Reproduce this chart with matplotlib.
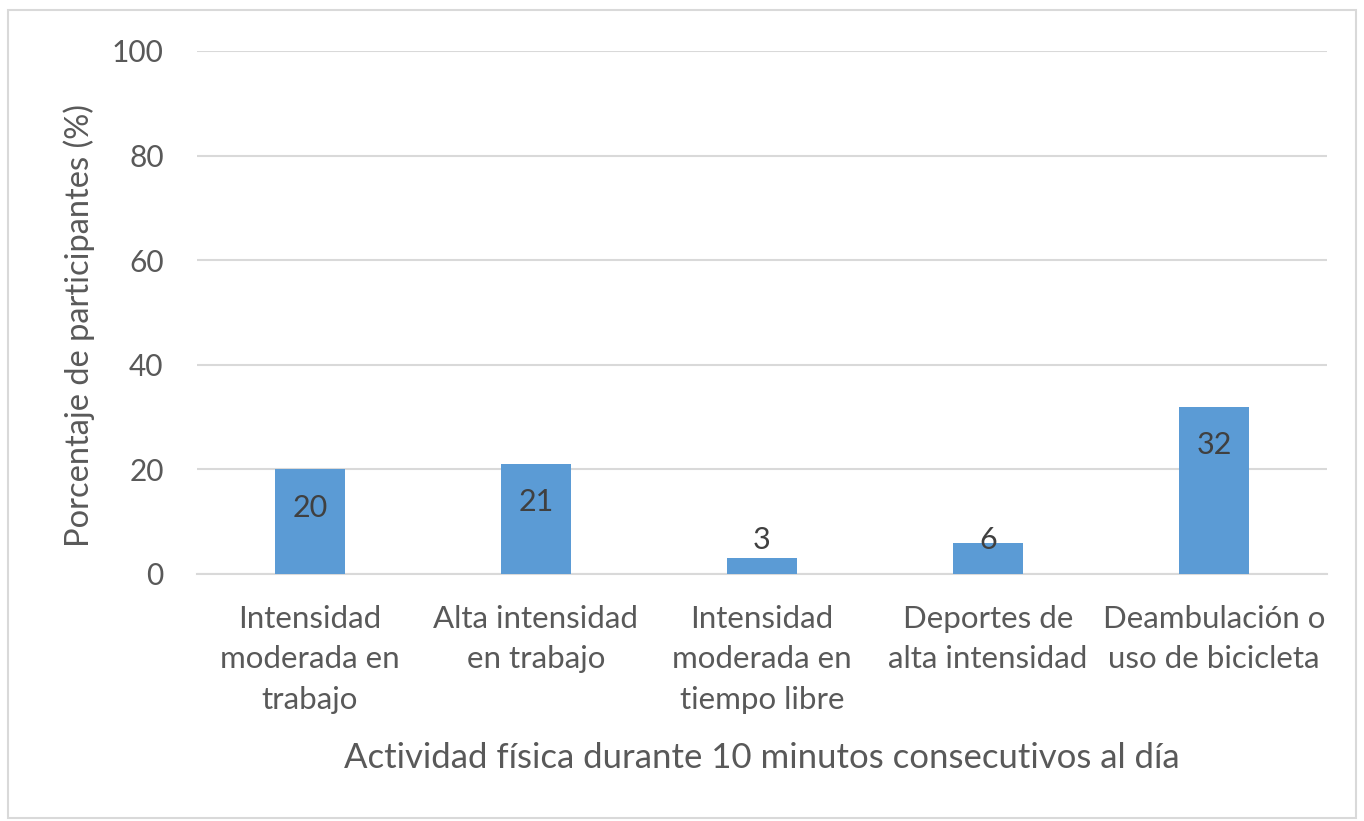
import matplotlib
matplotlib.use("Agg")
import matplotlib.pyplot as plt
from matplotlib.patches import Rectangle

categories = [
    "Intensidad\nmoderada en\ntrabajo",
    "Alta intensidad\nen trabajo",
    "Intensidad\nmoderada en\ntiempo libre",
    "Deportes de\nalta intensidad",
    "Deambulación o\nuso de bicicleta",
]
values = [20, 21, 3, 6, 32]
yticks = [0, 20, 40, 60, 80, 100]

BAR = "#5b9bd5"
GRID = "#d9d9d9"
TEXT = "#595959"

plt.rcParams["font.family"] = ["Lato", "DejaVu Sans"]

fig = plt.figure(figsize=(13.64, 8.21), dpi=100)
ax = fig.add_axes([0.1444, 0.3009, 0.8284, 0.637])

x = range(len(values))
ax.bar(x, values, width=0.31, color=BAR, zorder=3)
for xi, v in zip(x, values):
    ax.text(xi, max(v - 7.3, 6.5), str(v), ha="center", va="center",
            fontsize=22, color="#404040", zorder=4)

ax.set_xlim(-0.5, len(values) - 0.5)
ax.set_ylim(0, 100)
ax.set_yticks(yticks)
ax.yaxis.grid(True, color=GRID, linewidth=1.5, zorder=0)
ax.set_axisbelow(True)
for s in ["top", "right", "left"]:
    ax.spines[s].set_visible(False)
ax.spines["bottom"].set_color(GRID)
ax.spines["bottom"].set_linewidth(1.5)
ax.tick_params(axis="both", length=0, colors=TEXT)
ax.tick_params(axis="y", pad=24, labelsize=21.5)
ax.tick_params(axis="x", pad=22, labelsize=22.5)
ax.set_xticks(list(x))
ax.set_xticklabels(categories, linespacing=1.55)

ax.set_xlabel("Actividad física durante 10 minutos consecutivos al día",
              fontsize=25, color=TEXT, labelpad=20)
ax.set_ylabel("Porcentaje de participantes (%)", fontsize=23.5, color=TEXT)
ax.yaxis.set_label_coords(-0.09, 0.475)

# chart frame
fig.patches.append(Rectangle((0.006, 0.004), 0.988, 0.984, transform=fig.transFigure,
                             fill=False, edgecolor="#d9d9d9", linewidth=1.5))

fig.savefig("out.png", dpi=100, facecolor="white")
